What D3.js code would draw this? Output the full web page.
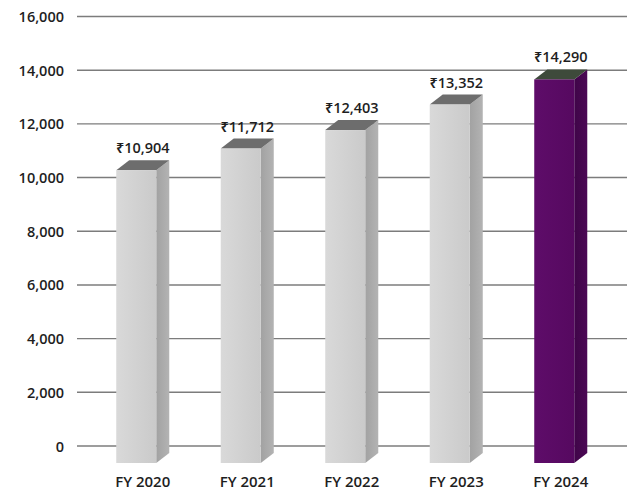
<!DOCTYPE html>
<html>
<head>
<meta charset="utf-8">
<script src="https://cdn.jsdelivr.net/npm/d3@7"></script>
<style>
  html, body { margin: 0; padding: 0; background: #fff; }
  svg { display: block; font-family: "Open Sans", "Noto Sans", "DejaVu Sans", sans-serif; }
</style>
</head>
<body>
<svg id="chart" width="638" height="492"></svg>
<script>
// Revenue by fiscal year (₹)
const categories = ["FY 2020", "FY 2021", "FY 2022", "FY 2023", "FY 2024"];
const revenue = [10904, 11712, 12403, 13352, 14290];
const yTicks = [0, 2000, 4000, 6000, 8000, 10000, 12000, 14000, 16000];
const highlight = "FY 2024";

const svg = d3.select("#chart");
const W = 638, H = 492;

const y = d3.scaleLinear().domain([0, 16000]).range([446, 16.5]);
const x = d3.scaleBand().domain(categories).range([84, 606.5]).paddingInner(0.617).paddingOuter(0.3085);

// 3D extrusion: front face sits below the grid plane, depth goes up-right
const frontDrop = 17, depthX = 13, depthY = 10;
const bw = x.bandwidth();

const defs = svg.append("defs");
function grad(id, c0, c1) {
  const g = defs.append("linearGradient").attr("id", id).attr("x1", 0).attr("x2", 1).attr("y1", 0).attr("y2", 0);
  g.append("stop").attr("offset", "0%").attr("stop-color", c0);
  g.append("stop").attr("offset", "100%").attr("stop-color", c1);
}
grad("frontGray", "#d9d9d9", "#cacaca");
grad("sideGray", "#a2a2a2", "#b3b3b3");
grad("frontPurple", "#5e0c69", "#560960");
grad("sidePurple", "#3f0548", "#4c0855");

// Gridlines
svg.append("g").selectAll("line").data(yTicks).join("line")
  .attr("x1", 77).attr("x2", 627)
  .attr("y1", d => y(d)).attr("y2", d => y(d))
  .attr("stroke", "#7c7c7c").attr("stroke-width", 1.4);

// Y tick labels
svg.append("g").selectAll("text").data(yTicks).join("text")
  .attr("x", 64).attr("y", d => y(d)).attr("dy", "0.38em")
  .attr("text-anchor", "end")
  .attr("font-size", 14.5).attr("font-weight", 600).attr("fill", "#1e1e1e")
  .text(d => d3.format(",")(d));

const data = categories.map((c, i) => ({ cat: c, value: revenue[i] }));

const bars = svg.append("g").selectAll("g").data(data).join("g");

bars.each(function(d) {
  const g = d3.select(this);
  const hot = d.cat === highlight;
  const x0 = x(d.cat), x1 = x0 + bw;
  const yT = y(d.value) + frontDrop, yB = y(0) + frontDrop;
  const poly = pts => pts.map(p => p.join(",")).join(" ");

  // side face
  g.append("polygon")
    .attr("points", poly([[x1, yT], [x1 + depthX, yT - depthY], [x1 + depthX, yB - depthY], [x1, yB]]))
    .attr("fill", hot ? "url(#sidePurple)" : "url(#sideGray)");
  // top face
  g.append("polygon")
    .attr("points", poly([[x0, yT], [x1, yT], [x1 + depthX, yT - depthY], [x0 + depthX, yT - depthY]]))
    .attr("fill", hot ? "#3e4a3b" : "#6d6d6d");
  // front face
  g.append("rect")
    .attr("x", x0).attr("y", yT).attr("width", bw).attr("height", yB - yT)
    .attr("fill", hot ? "url(#frontPurple)" : "url(#frontGray)");

  // value label
  g.append("text")
    .attr("x", x0 + (bw + depthX) / 2).attr("y", yT - depthY - 7)
    .attr("text-anchor", "middle")
    .attr("font-size", 14.5).attr("font-weight", 600).attr("fill", "#1e1e1e")
    .text("₹" + d3.format(",")(d.value));
});

// Category labels
svg.append("g").selectAll("text").data(categories).join("text")
  .attr("x", d => x(d) + (bw + depthX) / 2).attr("y", 487)
  .attr("text-anchor", "middle")
  .attr("font-size", 15).attr("font-weight", 600).attr("fill", "#1e1e1e")
  .text(d => d);
</script>
</body>
</html>
